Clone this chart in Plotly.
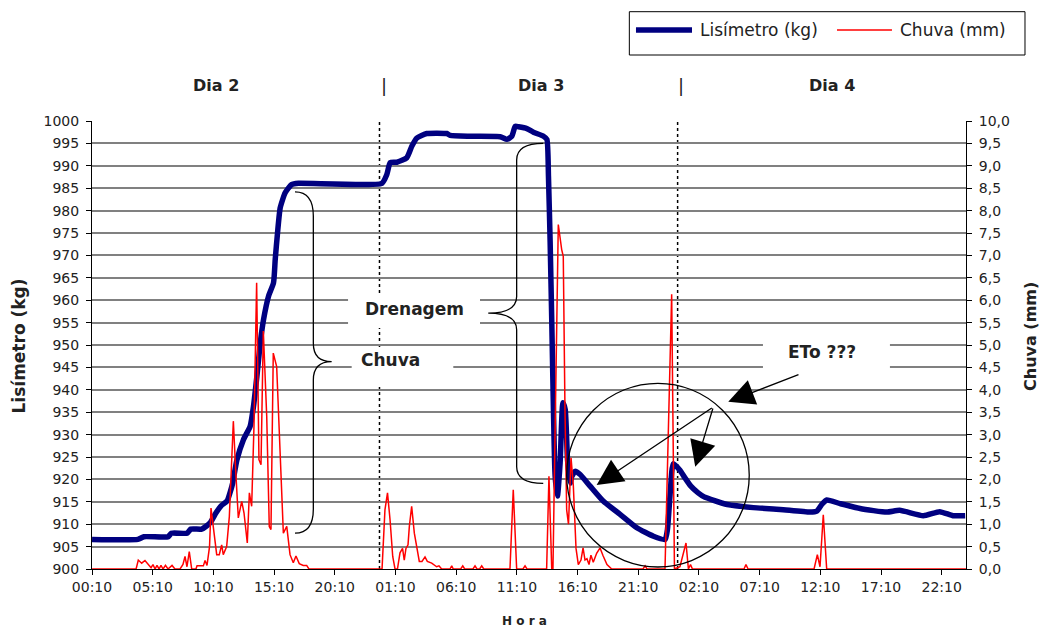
import plotly.graph_objects as go

# ---------------------------------------------------------------
# Time axis: hours counted from 00:00 of "Dia 2"
# ---------------------------------------------------------------
lis_horas = [0.17, 3.95, 4.45, 6.45, 6.7, 8.0, 8.3, 9.2, 9.6, 9.95,
             10.4, 10.8, 11.3, 11.6, 11.75, 12.1, 12.65, 13.2, 13.47, 13.75,
             14.03, 14.3, 14.71, 15.12, 15.26, 15.45, 15.67, 16.08, 16.6, 17.18,
             24.05, 24.46, 24.73, 25.28, 26.1, 26.52, 26.93, 27.75, 29.4, 29.67,
             31.32, 33.79, 34.34, 34.75, 35.03, 35.3, 35.99, 36.53, 37.36, 37.64,
             37.77, 37.91, 38.05, 38.18, 38.32, 38.51, 38.73, 38.96, 39.15, 39.34,
             39.56, 39.7, 39.97, 40.38, 41.2, 42.3, 43.67, 45.05, 46.42, 47.38,
             47.57, 47.8, 48.05, 48.62, 49.0, 49.5, 50.1, 50.6, 51.2, 52.5, 54.65, 56.85,
             59.3, 59.87, 60.28, 60.7, 61.79, 63.44, 65.63, 66.7, 68.65, 70.0,
             71.1, 72.1]
lis_kg = [906.6, 906.6, 907.2, 907.2, 908.0, 908.0, 908.9, 908.9, 909.6, 910.5,
          912.6, 914.1, 915.2, 917.6, 919.1, 924.3, 928.9, 931.9, 936.3, 943.0,
          950.5, 955.7, 960.9, 963.9, 969.1, 975.0, 980.6, 984.0, 985.8, 986.1,
          986.1, 988.1, 990.7, 990.8, 991.8, 994.4, 996.2, 997.2, 997.2, 996.8,
          996.6, 996.5, 995.9, 996.6, 998.8, 998.7, 998.3, 997.5, 996.6, 995.9,
          987.7, 972.8, 954.2, 935.6, 920.7, 916.3, 923.7, 937.1, 935.6, 924.4,
          919.2, 920.7, 921.8, 921.1, 918.5, 915.1, 912.2, 909.2, 907.3, 906.6,
          908.8, 917.0, 923.5, 922.0, 920.4, 918.5, 917.0, 916.1, 915.5, 914.4, 913.7, 913.3,
          912.7, 912.9, 914.4, 915.4, 914.6, 913.5, 912.7, 913.1, 911.9, 912.8,
          911.9, 911.9]

chuva_horas = [0.17, 3.8, 3.98, 4.26, 4.53, 4.78, 5.03, 5.19, 5.36, 5.52,
               5.69, 5.85, 6.02, 6.22, 6.43, 6.76, 7.0, 7.42, 7.66, 7.83,
               7.99, 8.18, 8.38, 8.73, 8.82, 9.34, 9.48, 9.64, 9.85, 9.97,
               10.22, 10.44, 10.65, 10.85, 10.98, 11.26, 11.48, 11.81, 12.0, 12.22,
               12.5, 12.69, 12.96, 13.13, 13.32, 13.51, 13.73, 13.92, 14.09, 14.28,
               14.56, 14.77, 14.91, 15.1, 15.38, 15.65, 15.93, 16.21, 16.48, 16.75,
               16.97, 17.24, 17.57, 17.85, 18.04, 24.06, 24.3, 24.51, 24.72, 24.94,
               25.13, 25.33, 25.54, 25.75, 25.89, 26.03, 26.2, 26.31, 26.5, 26.72,
               26.92, 27.13, 27.35, 27.6, 27.79, 28.15, 28.56, 28.75, 28.97, 29.66,
               29.8, 29.93, 30.54, 30.71, 30.87, 31.55, 31.72, 31.88, 32.1, 32.27,
               32.44, 34.6, 34.87, 35.15, 35.67, 35.84, 36.0, 37.62, 37.81, 38.04,
               38.14, 38.58, 38.86, 38.99, 39.13, 39.27, 39.42, 39.63, 39.82, 40.04,
               40.23, 40.45, 40.62, 40.78, 40.94, 41.11, 41.27, 41.46, 41.74, 42.02,
               42.26, 42.59, 42.98, 45.56, 45.73, 45.89, 47.37, 47.92, 48.15, 48.6,
               49.1, 49.3, 49.47, 49.63, 53.88, 54.04, 54.21, 59.65, 59.92, 60.14,
               60.41, 60.69, 72.17]
chuva_mm = [0.0, 0.0, 0.2, 0.13, 0.19, 0.1, 0.03, 0.1, 0.0, 0.08,
            0.0, 0.08, 0.0, 0.08, 0.0, 0.08, 0.0, 0.0, 0.1, 0.28,
            0.05, 0.39, 0.0, 0.0, 0.07, 0.07, 0.19, 0.08, 0.5, 1.36,
            0.8, 0.32, 0.32, 0.54, 0.32, 0.5, 1.17, 3.3, 2.22, 1.14,
            1.51, 1.25, 0.58, 1.7, 1.4, 3.18, 6.39, 2.44, 2.33, 5.31,
            3.41, 0.95, 0.88, 4.82, 4.52, 2.66, 0.8, 0.95, 0.32, 0.14,
            0.29, 0.12, 0.08, 0.08, 0.0, 0.0, 1.32, 1.7, 1.1, 0.28,
            0.0, 0.0, 0.36, 0.46, 0.2, 0.46, 0.54, 0.95, 1.4, 0.8,
            0.46, 0.17, 0.17, 0.27, 0.17, 0.13, 0.05, 0.07, 0.0, 0.0,
            0.07, 0.0, 0.0, 0.07, 0.0, 0.0, 0.07, 0.0, 0.0, 0.07,
            0.0, 0.0, 1.77, 0.0, 0.0, 0.07, 0.0, 0.0, 2.07, 0.0,
            0.0, 7.69, 7.13, 6.98, 3.56, 1.32, 1.0, 2.48, 1.85, 0.46,
            0.1, 0.2, 0.47, 0.2, 0.23, 0.1, 0.31, 0.15, 0.35, 0.47,
            0.3, 0.1, 0.0, 0.0, 0.07, 0.0, 0.0, 6.13, 0.0, 0.05,
            0.58, 0.0, 0.1, 0.0, 0.0, 0.1, 0.0, 0.0, 0.32, 0.05,
            1.21, 0.0, 0.0]

# hour-axis labels, one every 5 h starting at 00:10
tick_labels = ["00:10", "05:10", "10:10", "15:10", "20:10",
               "01:10", "06:10", "11:10", "16:10", "21:10",
               "02:10", "07:10", "12:10", "17:10", "22:10"]
tick_horas = [10 / 60 + 5 * i for i in range(len(tick_labels))]

chuva_ticks = [i * 0.5 for i in range(21)]
chuva_tick_labels = [f"{v:.1f}".replace(".", ",") for v in chuva_ticks]

# start of Dia 3 and Dia 4 on the hour axis
dia_limites = [23.85, 48.41]

FONT = "DejaVu Sans"
TXT = "#222222"

fig = go.Figure()
fig.add_trace(go.Scatter(x=lis_horas, y=lis_kg, mode="lines", name="Lisímetro (kg)",
                         line=dict(color="#000080", width=5.5, shape="spline",
                                   smoothing=0.5)))
fig.add_trace(go.Scatter(x=chuva_horas, y=chuva_mm, mode="lines", name="Chuva (mm)",
                         yaxis="y2", line=dict(color="#FF0000", width=1.5)))

fig.update_layout(
    width=1042, height=628,
    margin=dict(l=92, r=76, t=121, b=59),
    plot_bgcolor="white", paper_bgcolor="white",
    showlegend=False,
    font=dict(family=FONT, size=14, color=TXT),
    xaxis=dict(range=[10 / 60, 72 + 10 / 60], tickmode="array", tickvals=tick_horas,
               ticktext=tick_labels, ticks="outside", ticklen=5, tickcolor="black",
               showline=True, linecolor="black", linewidth=1, showgrid=False,
               zeroline=False, layer="below traces", tickfont=dict(size=14, color=TXT)),
    yaxis=dict(range=[900, 1000], tick0=900, dtick=5, ticks="outside", ticklen=5,
               tickcolor="black", showline=True, linecolor="black", linewidth=1,
               showgrid=True, gridcolor="#808080", gridwidth=1.5, zeroline=False,
               ticklabelstandoff=4, tickfont=dict(size=14, color=TXT)),
    yaxis2=dict(range=[0, 10], overlaying="y", side="right", tickmode="array",
                tickvals=chuva_ticks, ticktext=chuva_tick_labels, ticks="outside",
                ticklen=5, tickcolor="black", showline=True, linecolor="black",
                linewidth=1, showgrid=False, zeroline=False, ticklabelstandoff=4,
                tickfont=dict(size=14, color=TXT)),
)


def chave(x_fim, x_eixo, x_bico, y_top, y_meio, y_base, r_fim, r_meio):
    """Curly brace path in data coordinates (vertical, tip at y_meio)."""
    return (f"M{x_fim},{y_top} Q{x_eixo},{y_top} {x_eixo},{y_top - r_fim} "
            f"L{x_eixo},{y_meio + r_meio} Q{x_eixo},{y_meio} {x_bico},{y_meio} "
            f"Q{x_eixo},{y_meio} {x_eixo},{y_meio - r_meio} "
            f"L{x_eixo},{y_base + r_fim} Q{x_eixo},{y_base} {x_fim},{y_base}")


shapes = []
# dotted day separators
for h in dia_limites:
    shapes.append(dict(type="line", xref="x", yref="paper", x0=h, x1=h, y0=0, y1=1,
                       line=dict(color="black", width=1.5, dash="dot"), layer="between"))
# white label boxes over the grid
for x0, x1, y0, y1 in [(21.26, 32.13, 953.8, 961.2),
                       (21.56, 29.93, 940.6, 949.3),
                       (55.44, 65.9, 942.2, 952.2)]:
    shapes.append(dict(type="rect", xref="x", yref="y", x0=x0, x1=x1, y0=y0, y1=y1,
                       fillcolor="white", line=dict(width=0), layer="above"))
# braces: rain gain (Dia 2) and drainage (Dia 3)
shapes.append(dict(type="path", xref="x", yref="y", layer="above",
                   path=chave(16.89, 18.40, 19.91, 984.2, 946.3, 908.0, 5.4, 4.1),
                   line=dict(color="black", width=1.3)))
shapes.append(dict(type="path", xref="x", yref="y", layer="above",
                   path=chave(37.34, 35.15, 32.81, 995.0, 957.1, 919.1, 3.7, 3.7),
                   line=dict(color="black", width=1.3)))
# circle around the night-time decline
shapes.append(dict(type="circle", xref="x", yref="y", x0=39.27, x1=54.31,
                   y0=900.45, y1=941.45, line=dict(color="black", width=1.3),
                   layer="above"))

# legend drawn as a framed box above the plot
shapes.append(dict(type="rect", xref="paper", yref="paper", x0=0.6148, x1=1.0675,
                   y0=1.1473, y1=1.244, line=dict(color="black", width=1),
                   fillcolor="white"))
shapes.append(dict(type="line", xref="paper", yref="paper", x0=0.6224, x1=0.6865,
                   y0=1.2031, y1=1.2031, line=dict(color="#000080", width=5.5)))
shapes.append(dict(type="line", xref="paper", yref="paper", x0=0.8524, x1=0.9153,
                   y0=1.2031, y1=1.2031, line=dict(color="#FF0000", width=1.5)))
fig.update_layout(shapes=shapes)

ann = []
ann.append(dict(xref="paper", yref="paper", x=0.6934, y=1.2031, xanchor="left",
                yanchor="middle", text="Lisímetro (kg)", showarrow=False,
                font=dict(size=17, color=TXT)))
ann.append(dict(xref="paper", yref="paper", x=0.9222, y=1.2031, xanchor="left",
                yanchor="middle", text="Chuva (mm)", showarrow=False,
                font=dict(size=17, color=TXT)))
# day headers
for x, t in [(0.1416, "Dia 2"), (0.5137, "Dia 3"), (0.8463, "Dia 4")]:
    ann.append(dict(xref="paper", yref="paper", x=x, y=1.0788, text=f"<b>{t}</b>",
                    xanchor="center", yanchor="middle", showarrow=False,
                    font=dict(size=16, color=TXT)))
for x in [0.3341, 0.6739]:
    ann.append(dict(xref="paper", yref="paper", x=x, y=1.0788, text="|",
                    xanchor="center", yanchor="middle", showarrow=False,
                    font=dict(size=18, color=TXT)))
# axis titles
ann.append(dict(xref="paper", yref="paper", x=-0.0824, y=0.4989, textangle=-90,
                xanchor="center", yanchor="middle",
                text="<b>Lisímetro (kg)</b>", showarrow=False,
                font=dict(size=17, color=TXT)))
ann.append(dict(xref="paper", yref="paper", x=1.0744, y=0.5179, textangle=-90,
                xanchor="center", yanchor="middle",
                text="<b>Chuva (mm)</b>", showarrow=False,
                font=dict(size=16, color=TXT)))
ann.append(dict(xref="paper", yref="paper", x=0.4943, y=-0.1161,
                xanchor="center", yanchor="middle",
                text="<b>H o r a</b>", showarrow=False, font=dict(size=12, color=TXT)))
# in-plot labels
for x, y, t in [(26.77, 958.0, "Drenagem"), (24.72, 946.65, "Chuva"),
                (60.3, 948.4, "ETo ???")]:
    ann.append(dict(xref="x", yref="y", x=x, y=y, text=f"<b>{t}</b>",
                    xanchor="center", yanchor="middle",
                    showarrow=False, font=dict(size=17, color=TXT)))
# arrows
for (tx, ty), (hx, hy) in [((58.49, 943.5), (52.58, 937.34)),
                           ((51.35, 936.16), (41.74, 918.75)),
                           ((51.35, 936.16), (49.86, 922.8))]:
    ann.append(dict(xref="x", yref="y", axref="x", ayref="y", x=hx, y=hy, ax=tx, ay=ty,
                    text="", showarrow=True, arrowhead=2, arrowsize=4,
                    arrowwidth=1.3, arrowcolor="black"))
fig.update_layout(annotations=ann)

fig.write_html("out.html")
